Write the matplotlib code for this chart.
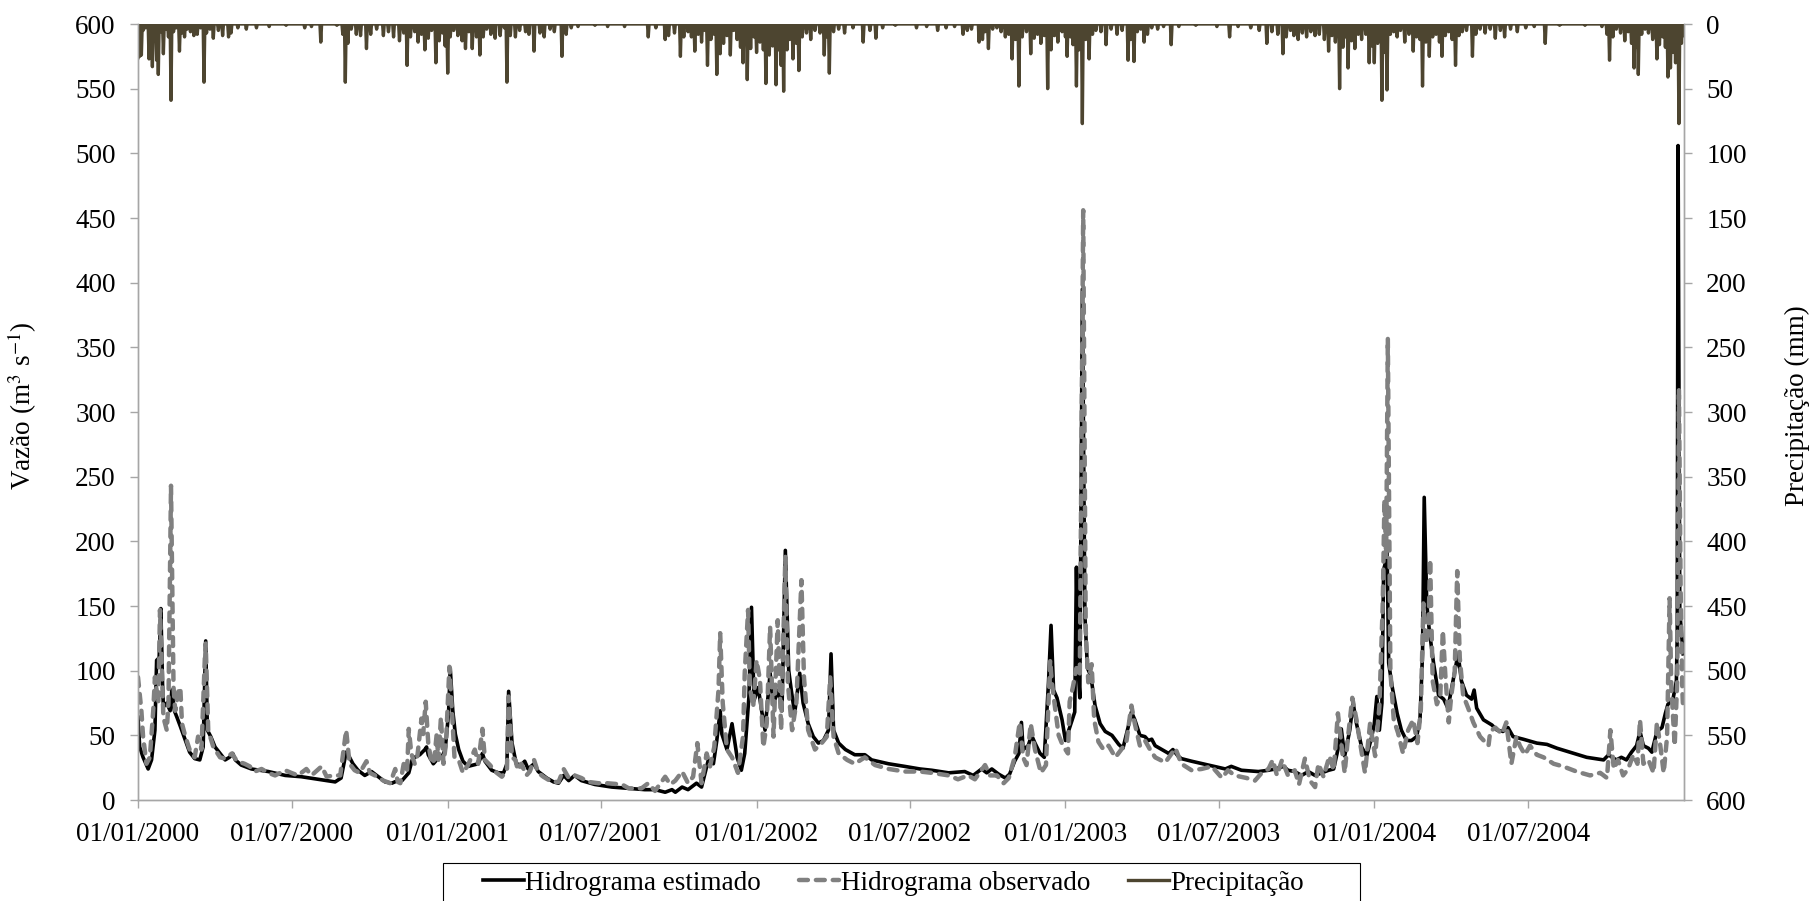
import numpy as np
import pandas as pd
import matplotlib
matplotlib.use("Agg")
import matplotlib.pyplot as plt
import matplotlib.dates as mdates
from matplotlib.patches import Rectangle

plt.rcParams["font.family"] = ["Liberation Serif", "DejaVu Serif"]
plt.rcParams["mathtext.fontset"] = "stix"

INICIO = pd.Timestamp("2000-01-01")
FIM = pd.Timestamp("2005-01-01")

# (dia desde 01/01/2000, vazao m3/s) - hidrograma estimado
estimado = [
    (0, 64), (2, 41), (6, 33), (12, 24), (16, 31), (20, 54), (22, 108), (25, 110), (27, 148), (29, 90),
    (30, 72), (34, 75), (38, 69), (40, 85), (43, 69), (46, 64), (50, 57), (56, 46), (61, 37), (67, 32),
    (73, 31), (77, 41), (80, 123), (82, 54), (86, 49), (91, 41), (97, 36), (103, 31), (108, 33), (112, 36),
    (115, 31), (122, 27), (134, 24), (154, 22), (174, 19), (193, 18), (213, 16), (233, 14), (240, 17), (246, 37),
    (250, 33), (254, 28), (260, 23), (268, 19), (276, 22), (284, 18), (292, 14), (300, 13), (307, 15),
    (312, 15), (320, 21), (324, 31), (327, 33), (333, 35), (339, 39), (341, 41), (343, 35), (349, 28), (353, 31),
    (359, 33), (363, 39), (367, 67), (369, 102), (372, 69), (375, 51), (379, 39), (384, 30), (390, 26), (396, 27),
    (402, 28), (407, 36), (410, 30), (418, 23), (426, 21), (432, 21), (436, 28), (438, 84), (442, 44), (447, 28),
    (453, 27), (457, 30), (461, 24), (468, 28), (473, 22), (483, 17), (491, 14), (497, 13), (503, 19), (509, 15),
    (516, 19), (524, 15), (540, 12), (560, 10), (580, 9), (599, 8),
    (611, 8), (623, 6), (631, 8), (635, 6), (643, 10), (650, 8), (660, 13), (666, 10), (674, 31), (680, 28),
    (684, 46), (688, 69), (690, 51), (696, 39), (702, 59), (708, 33), (713, 23), (717, 36), (722, 80), (725, 149),
    (728, 77), (733, 87), (737, 69), (741, 54), (747, 98), (751, 75), (757, 85), (761, 69), (765, 193), (769, 100),
    (772, 85), (776, 67), (782, 98), (786, 75), (792, 59), (798, 49), (804, 44), (810, 46), (816, 54), (819, 113),
    (822, 54), (828, 44), (836, 39), (847, 35), (859, 35), (867, 31), (887, 28), (906, 26),
    (924, 24), (938, 23), (958, 21), (977, 22), (987, 19), (997, 24), (1003, 21), (1009, 24), (1017, 20), (1025, 17),
    (1030, 20), (1036, 30), (1041, 36), (1044, 60), (1046, 39), (1052, 42), (1056, 50), (1060, 44), (1066, 36),
    (1071, 33), (1076, 91), (1079, 135), (1082, 85), (1086, 79), (1092, 62), (1096, 46), (1101, 56), (1107, 68),
    (1109, 180), (1111, 102), (1113, 79), (1116, 395), (1119, 143), (1122, 102), (1126, 96), (1131, 73), (1137, 59),
    (1143, 53), (1151, 50), (1159, 43), (1164, 40), (1170, 56), (1174, 68), (1178, 62), (1184, 50), (1190, 49),
    (1194, 46), (1198, 47), (1202, 42), (1210, 39), (1218, 36), (1223, 39),
    (1229, 34), (1233, 32), (1245, 30), (1265, 27), (1285, 24), (1292, 26), (1304, 23), (1324, 22), (1336, 23),
    (1344, 24), (1354, 26), (1359, 23), (1367, 22), (1375, 19), (1383, 22), (1391, 19), (1399, 21), (1407, 23),
    (1413, 24), (1418, 39), (1422, 55), (1426, 34), (1432, 54), (1436, 75), (1440, 59), (1446, 41), (1452, 34),
    (1458, 49), (1461, 59), (1464, 80), (1467, 54), (1470, 75), (1472, 178), (1474, 183), (1476, 200), (1478, 106),
    (1482, 88), (1488, 67), (1493, 54), (1499, 46), (1505, 46), (1511, 49), (1515, 62), (1518, 113), (1520, 234),
    (1523, 152), (1526, 131),
    (1531, 106), (1537, 81), (1543, 78), (1548, 71), (1554, 92), (1560, 113), (1564, 92), (1570, 81), (1576, 78),
    (1579, 85), (1582, 71), (1590, 62), (1600, 58), (1606, 54), (1613, 53), (1619, 56), (1625, 49), (1637, 47),
    (1653, 44), (1665, 43), (1677, 40), (1692, 37), (1712, 33), (1732, 31), (1738, 35), (1742, 33), (1747, 31),
    (1753, 33), (1759, 31), (1765, 37), (1771, 42), (1775, 53), (1779, 42), (1785, 40), (1789, 37), (1795, 53),
    (1801, 56), (1805, 67), (1808, 74), (1814, 78), (1818, 92), (1819, 128), (1820, 506), (1822, 146), (1826, 113),
]

# (dia, vazao m3/s) - hidrograma observado
observado = [
    (0, 95), (4, 69), (6, 49), (10, 28), (14, 33), (18, 69), (20, 95), (24, 75), (26, 147), (30, 64),
    (34, 54), (36, 75), (39, 243), (42, 87), (44, 69), (48, 85), (50, 87), (52, 59), (56, 49), (61, 39),
    (67, 33), (71, 49), (75, 39), (79, 110), (80, 121), (83, 54), (89, 41), (97, 33), (103, 32), (111, 36),
    (117, 30), (126, 28), (132, 26), (138, 22), (146, 24), (154, 21), (162, 19), (174, 23), (181, 21), (189, 19),
    (199, 24), (205, 19), (217, 26), (223, 18), (231, 19), (239, 19), (246, 54), (250, 28), (256, 23), (262, 21),
    (270, 30), (274, 21), (280, 19), (290, 15), (298, 13), (304, 24), (307, 14),
    (310, 13), (314, 28), (318, 23), (320, 55), (323, 36), (327, 28), (330, 33), (335, 63), (337, 51), (340, 76),
    (343, 44), (347, 28), (350, 31), (353, 51), (355, 31), (358, 64), (361, 28), (364, 44), (368, 103), (371, 69),
    (374, 33), (379, 31), (384, 21), (390, 27), (394, 33), (398, 39), (402, 28), (407, 55), (410, 31), (416, 27),
    (422, 22), (430, 18), (436, 23), (438, 80), (442, 33), (446, 31), (449, 23), (453, 28), (459, 19), (463, 22),
    (468, 31), (473, 21), (479, 18), (489, 14), (497, 14), (503, 24), (509, 17), (516, 19), (524, 17), (532, 14),
    (544, 13), (554, 13), (572, 12), (580, 9), (595, 9), (603, 13),
    (611, 7), (623, 18), (629, 12), (635, 15), (643, 22), (650, 13), (656, 18), (661, 44), (666, 13), (672, 36),
    (676, 26), (681, 41), (686, 85), (688, 129), (691, 75), (696, 39), (702, 33), (709, 21), (715, 49), (717, 98),
    (721, 147), (723, 87), (727, 72), (731, 108), (735, 93), (739, 41), (743, 59), (747, 134), (751, 49), (756, 139),
    (760, 54), (765, 188), (768, 90), (773, 54), (778, 75), (784, 170), (787, 95), (792, 54), (800, 39), (808, 44),
    (814, 49), (818, 95), (822, 49), (828, 36), (838, 31), (847, 28), (859, 33), (871, 27), (887, 24), (906, 22),
    (924, 22), (938, 21), (958, 19), (969, 16), (981, 19), (989, 16), (1001, 27), (1007, 19), (1015, 19), (1023, 13),
    (1029, 17), (1036, 33), (1042, 60), (1046, 33), (1050, 27), (1055, 59), (1060, 39), (1067, 21), (1073, 27),
    (1078, 108), (1080, 91), (1084, 70), (1088, 50), (1093, 42), (1099, 36), (1101, 76), (1105, 88), (1109, 102),
    (1113, 96), (1117, 456), (1120, 131), (1123, 91), (1127, 105), (1130, 62), (1135, 45), (1141, 39), (1147, 42),
    (1155, 33), (1162, 39), (1168, 45), (1174, 73), (1178, 59), (1184, 42), (1190, 46), (1196, 39), (1202, 33),
    (1214, 29),
    (1226, 40), (1233, 28), (1245, 23), (1257, 24), (1269, 26), (1281, 17), (1288, 23), (1296, 19), (1310, 17),
    (1320, 15), (1328, 21), (1336, 24), (1341, 31), (1346, 19), (1352, 31), (1359, 19), (1367, 23), (1372, 12),
    (1379, 32), (1385, 15), (1391, 10), (1395, 28), (1401, 18), (1408, 34), (1413, 23), (1418, 67), (1422, 44),
    (1426, 21), (1430, 49), (1435, 79), (1440, 62), (1445, 41), (1450, 21), (1456, 59), (1462, 34), (1467, 72),
    (1471, 152), (1473, 232), (1475, 188), (1477, 357), (1480, 100), (1484, 62), (1489, 52), (1495, 36), (1501, 54),
    (1507, 62), (1512, 44), (1516, 70), (1519, 152), (1522, 121), (1525, 131), (1527, 186),
    (1530, 92), (1535, 74), (1539, 81), (1542, 131), (1545, 96), (1549, 60), (1552, 81), (1556, 99), (1559, 177),
    (1562, 110), (1566, 81), (1572, 71), (1578, 60), (1586, 49), (1596, 42), (1598, 53), (1604, 56), (1612, 51),
    (1617, 60), (1623, 28), (1629, 49), (1633, 42), (1639, 35), (1645, 42), (1653, 35), (1661, 33), (1673, 28),
    (1684, 26), (1700, 22), (1716, 19), (1728, 21), (1736, 17), (1740, 54), (1744, 24), (1749, 31), (1755, 19),
    (1761, 24), (1767, 35), (1772, 28), (1775, 62), (1779, 28), (1785, 31), (1791, 21), (1795, 60), (1799, 42),
    (1803, 21), (1807, 49), (1810, 156), (1812, 88), (1816, 42), (1819, 92), (1821, 318), (1823, 164), (1825, 85),
    (1826, 70),
]

# (dia, chuva mm) - dias sem registro ficam com zero
chuva = [
    (0, 26), (2, 25), (4, 24), (6, 5), (9, 3), (13, 27), (15, 12), (17, 33), (20, 8), (22, 28), (24, 39), (27, 6),
    (30, 23), (33, 4), (36, 10), (39, 59), (42, 6), (45, 3), (49, 21), (52, 7), (55, 10), (58, 4), (62, 6), (66, 9),
    (70, 8), (74, 3), (78, 45), (81, 7), (85, 4), (89, 11), (95, 5), (100, 9), (107, 10), (110, 7), (118, 3),
    (128, 4), (140, 3), (155, 2), (175, 1), (197, 3), (205, 2), (216, 14), (235, 1), (242, 8), (245, 45), (248, 15),
    (252, 4), (258, 8), (263, 9), (270, 19), (275, 8), (282, 4), (290, 9), (296, 6), (302, 10), (309, 13), (314, 7),
    (318, 32), (322, 10), (327, 6), (331, 14), (335, 8), (339, 20), (343, 11), (347, 5), (352, 30), (356, 13),
    (360, 7), (363, 17), (366, 38),
    (369, 10), (373, 5), (378, 9), (383, 13), (387, 19), (391, 6), (395, 19), (400, 10), (404, 24), (408, 10),
    (412, 4), (417, 8), (422, 11), (428, 9), (433, 3), (436, 45), (440, 9), (446, 10), (451, 5), (458, 6), (462, 8),
    (468, 21), (475, 7), (480, 10), (487, 4), (492, 6), (501, 25), (506, 8), (512, 3), (520, 2), (540, 1), (555, 2),
    (575, 2), (603, 10), (612, 3), (623, 12), (627, 9), (634, 7), (641, 25), (645, 10), (650, 6), (654, 10),
    (658, 21), (662, 8), (666, 14), (670, 5), (673, 32), (677, 12), (681, 8), (684, 39), (688, 23), (692, 15),
    (696, 9), (700, 24), (704, 5), (708, 12), (712, 18), (715, 30), (720, 43), (724, 19), (728, 10), (731, 22),
    (735, 14), (739, 20), (742, 46), (746, 24), (750, 17), (754, 47), (757, 20), (760, 32), (763, 52), (767, 20),
    (770, 12), (774, 27), (778, 15), (781, 36), (785, 10), (790, 7), (795, 12), (800, 5), (806, 7), (811, 24),
    (814, 10), (817, 38), (822, 6), (828, 4), (835, 7), (845, 3), (857, 14), (865, 5), (872, 11), (880, 3),
    (895, 1), (920, 3), (932, 2), (945, 5), (955, 3), (965, 2), (975, 8), (980, 5), (985, 4), (994, 14), (998, 12),
    (1001, 6), (1005, 19), (1010, 4), (1015, 3), (1020, 6), (1025, 10), (1029, 8), (1033, 27), (1037, 12),
    (1041, 48), (1045, 10), (1050, 6), (1055, 23), (1059, 11), (1063, 8), (1067, 15), (1071, 9), (1075, 50),
    (1079, 20), (1083, 9), (1087, 14), (1092, 6), (1096, 10),
    (1098, 25), (1102, 10), (1105, 16), (1109, 48), (1112, 20), (1116, 77), (1120, 12), (1124, 27), (1128, 8),
    (1132, 5), (1138, 6), (1144, 16), (1150, 4), (1157, 8), (1163, 5), (1170, 28), (1173, 12), (1177, 29),
    (1181, 6), (1185, 4), (1189, 14), (1193, 8), (1198, 3), (1205, 4), (1212, 2), (1221, 16), (1230, 2), (1250, 1),
    (1275, 2), (1290, 10), (1300, 2), (1315, 3), (1325, 5), (1334, 15), (1340, 6), (1347, 8), (1353, 23),
    (1357, 10), (1362, 5), (1366, 9), (1371, 12), (1376, 7), (1381, 10), (1386, 6), (1391, 9), (1396, 8),
    (1402, 12), (1407, 21), (1411, 9), (1415, 14), (1420, 50), (1424, 18), (1427, 10), (1430, 34), (1434, 13),
    (1438, 19), (1442, 8), (1446, 12), (1451, 8), (1455, 30), (1458, 17), (1461, 30),
    (1465, 15), (1470, 59), (1473, 22), (1476, 51), (1480, 8), (1484, 6), (1488, 10), (1492, 5), (1497, 14),
    (1502, 8), (1507, 21), (1511, 10), (1515, 12), (1518, 48), (1522, 14), (1526, 25), (1530, 10), (1534, 8),
    (1538, 14), (1541, 25), (1545, 9), (1549, 6), (1553, 12), (1557, 32), (1561, 9), (1565, 6), (1570, 5),
    (1577, 25), (1581, 8), (1586, 4), (1592, 7), (1598, 4), (1604, 11), (1610, 5), (1615, 10), (1622, 4),
    (1630, 6), (1640, 3), (1650, 2), (1663, 15), (1680, 1), (1710, 1), (1730, 2), (1736, 8), (1739, 28),
    (1743, 10), (1747, 4), (1752, 7), (1757, 13), (1761, 6), (1765, 15), (1768, 34), (1770, 18), (1773, 39),
    (1777, 8), (1781, 4), (1785, 7), (1790, 12), (1795, 27), (1798, 16), (1802, 10), (1805, 18), (1808, 41),
    (1811, 34), (1814, 22), (1817, 30), (1821, 77), (1824, 15), (1826, 9),
]

ROTULOS_X = pd.date_range("2000-01-01", "2004-07-01", freq="6MS")


def para_datas(dias):
    return INICIO + pd.to_timedelta(np.asarray(dias), unit="D")


dia_est, q_est = zip(*estimado)
dia_obs, q_obs = zip(*observado)

# serie diaria de chuva
dias_chuva = np.arange((FIM - INICIO).days)
p_mm = np.zeros(len(dias_chuva))
for d, mm in chuva:
    p_mm[d] = mm

cinza_eixo = "#A6A6A6"
cor_chuva = "#4D4530"
fs = 19.5

fig = plt.figure(figsize=(18.13, 9.01), dpi=100)
ax = fig.add_axes([138 / 1813, 101 / 901, 1546 / 1813, 776 / 901])
ax2 = ax.twinx()

l1, = ax.plot(para_datas(dia_est), q_est, color="black", lw=2.6, label="Hidrograma estimado", zorder=2)
l2, = ax.plot(para_datas(dia_obs), q_obs, color="#808080", lw=3.2, ls=(0, (2.0, 1.8)),
              dash_capstyle="round", label="Hidrograma observado", zorder=3)
l3, = ax2.plot(para_datas(dias_chuva), p_mm, color=cor_chuva, lw=2.4, label="Precipitação")

ax.set_xlim(INICIO, FIM)
ax.set_ylim(0, 600)
ax.set_yticks(np.arange(0, 601, 50))
ax2.set_ylim(600, 0)
ax2.set_yticks(np.arange(0, 601, 50))

ax.set_xticks(ROTULOS_X)
ax.xaxis.set_major_formatter(mdates.DateFormatter("%d/%m/%Y"))

for a in (ax, ax2):
    a.spines["top"].set_visible(False)
    for s in ("left", "right", "bottom"):
        a.spines[s].set_color(cinza_eixo)
        a.spines[s].set_linewidth(1.0)
    a.tick_params(direction="out", length=6, width=1.0, color=cinza_eixo, labelsize=fs, pad=10)

# titulos dos eixos
fig.text(22 / 1813, 0.55, "Vazão (m$^{3}$ s$^{-1}$)", rotation=90, ha="center", va="center", fontsize=fs)
fig.text(1797 / 1813, 0.55, "Precipitação (mm)", rotation=90, ha="center", va="center", fontsize=fs)

leg = fig.legend(handles=[l1, l2, l3], loc="center left", bbox_to_anchor=(483 / 1813, 18 / 901),
                 ncol=3, frameon=False, fontsize=fs, handlelength=1.5, handletextpad=0.05,
                 columnspacing=1.4, borderpad=0, borderaxespad=0)

# moldura da legenda, cortada na borda inferior da figura
fig.patches.append(Rectangle((443 / 1813, -0.05), 917 / 1813, 38 / 901 + 0.05, transform=fig.transFigure,
                             fill=False, edgecolor="black", lw=0.8))

fig.savefig("out.png", dpi=100)
